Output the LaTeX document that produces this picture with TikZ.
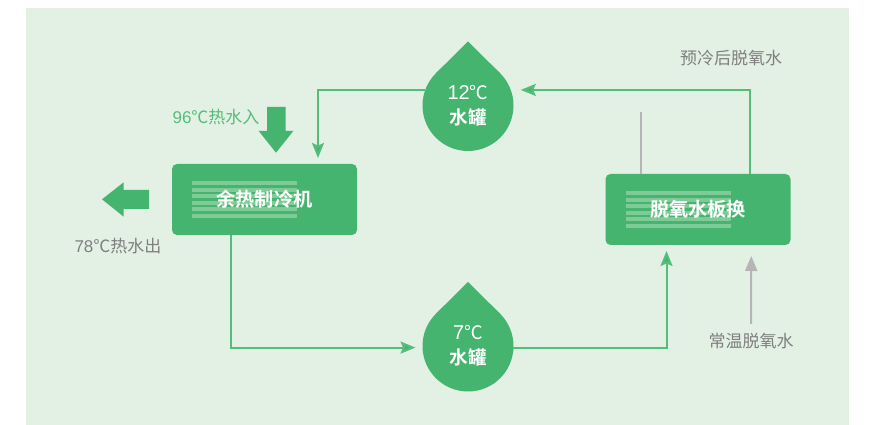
\documentclass[tikz,border=0pt]{standalone}
\usepackage{fontspec}
\usepackage{xcolor}
\usepackage{tikz}
\usetikzlibrary{arrows.meta,positioning,calc}
\newfontfamily\cjk[BoldFont={Noto Sans CJK SC Bold}]{Noto Sans CJK SC}
\newfontfamily\latn{Liberation Sans}
\definecolor{panelbg}{HTML}{E3F0E4}
\definecolor{boxgreen}{HTML}{45B46F}
\definecolor{linegreen}{HTML}{55BD7B}
\definecolor{stripegreen}{HTML}{7FCB98}
\definecolor{labelgray}{HTML}{7F7F7F}
\definecolor{linegray}{HTML}{B5B5B5}
\tikzset{
    unit/.style={fill=boxgreen, rounded corners=5pt, minimum width=185pt, minimum height=71pt,
        inner sep=0pt, outer sep=0pt, text=white, font=\cjk\bfseries\fontsize{19.2}{21}\selectfont,
        path picture={
            \foreach \k in {0,...,5}
                \fill[stripegreen, sharp corners] ([shift={(-72.5pt,14.25pt-\k*6.5pt)}]path picture bounding box.center)
                    rectangle ++(105pt,4pt);
        }},
    tank/.style={circle, fill=boxgreen, minimum size=91pt, inner sep=0pt, outer sep=0pt, text=white,
        align=center, font=\cjk\bfseries\fontsize{18.6}{25}\selectfont},
    caption/.style={font=\cjk\fontsize{17}{20}\selectfont, text=labelgray, inner sep=0pt},
    flow/.style={draw=linegreen, line width=2pt, -{Stealth[length=15pt,width=12pt,inset=2.5pt,fill=boxgreen]}},
    flowgray/.style={draw=linegray, line width=2pt, -{Stealth[length=15pt,width=12pt,inset=0pt]}},
}
\begin{document}
\begin{tikzpicture}[x=1pt,y=1pt]
    \useasboundingbox (0,0) rectangle (869,425);
    \fill[panelbg] (26,0) rectangle (849,417);

    % Units
    \node[unit] (coolBox) at (264.5,225.5) {余热制冷机};
    \node[unit] (plateBox) at (698,215.5) {脱氧水板换};

    % Tanks
    \node[tank] (tankA) at (468,319.5) {{\latn\mdseries\fontsize{20}{25}\selectfont 12}{\mdseries ℃}\\水罐};
    \node[tank] (tankB) at (468,79) {{\latn\mdseries\fontsize{20}{25}\selectfont 7}{\mdseries ℃}\\水罐};
    \foreach \t in {tankA,tankB}
        \fill[boxgreen] (\t.135) -- ($(\t.north)+(0,18.5)$) -- (\t.45) -- cycle;

    % Loop
    \draw[flow, shorten >=6pt] (tankA.160) -| ([xshift=53.5pt]coolBox.north);
    \draw[flow, shorten >=10pt] ([xshift=51.5pt]plateBox.north) |- (tankA.20);
    \draw[flow, shorten >=7pt] ([xshift=-34pt]coolBox.south) |- (tankB.182);
    \draw[flow, shorten >=6pt] (tankB.-2) -| ([xshift=-31.5pt]plateBox.south);

    % Deaerated water
    \node[caption] (coldOut) at (731,367) {预冷后脱氧水};
    \node[caption] (roomIn) at (751,84) {常温脱氧水};
    \coordinate (stubEnd) at (640.7,313);
    \draw[draw=linegray, line width=2pt] ([xshift=-57.3pt]plateBox.north) -- (stubEnd);
    \draw[flowgray, shorten >=11pt, shorten <=9pt] (roomIn.north) -- ([xshift=53.3pt]plateBox.south);

    % Hot water
    \node[caption, text=linegreen] (hotIn) at (216,308) {{\latn 96}℃热水入};
    \node[caption] (hotOut) at (118,179) {{\latn 78}℃热水出};
    \fill[boxgreen] (267,318) -- (285.7,318) -- (285.7,294) -- (293.3,294) -- (276,272.3)
        -- (258.7,294) -- (267,294) -- cycle;
    \fill[boxgreen] (149,235) -- (149,216) -- (123.7,216) -- (123.7,208.3) -- (102,225.7)
        -- (123.7,242.7) -- (123.7,235) -- cycle;
\end{tikzpicture}
\end{document}
